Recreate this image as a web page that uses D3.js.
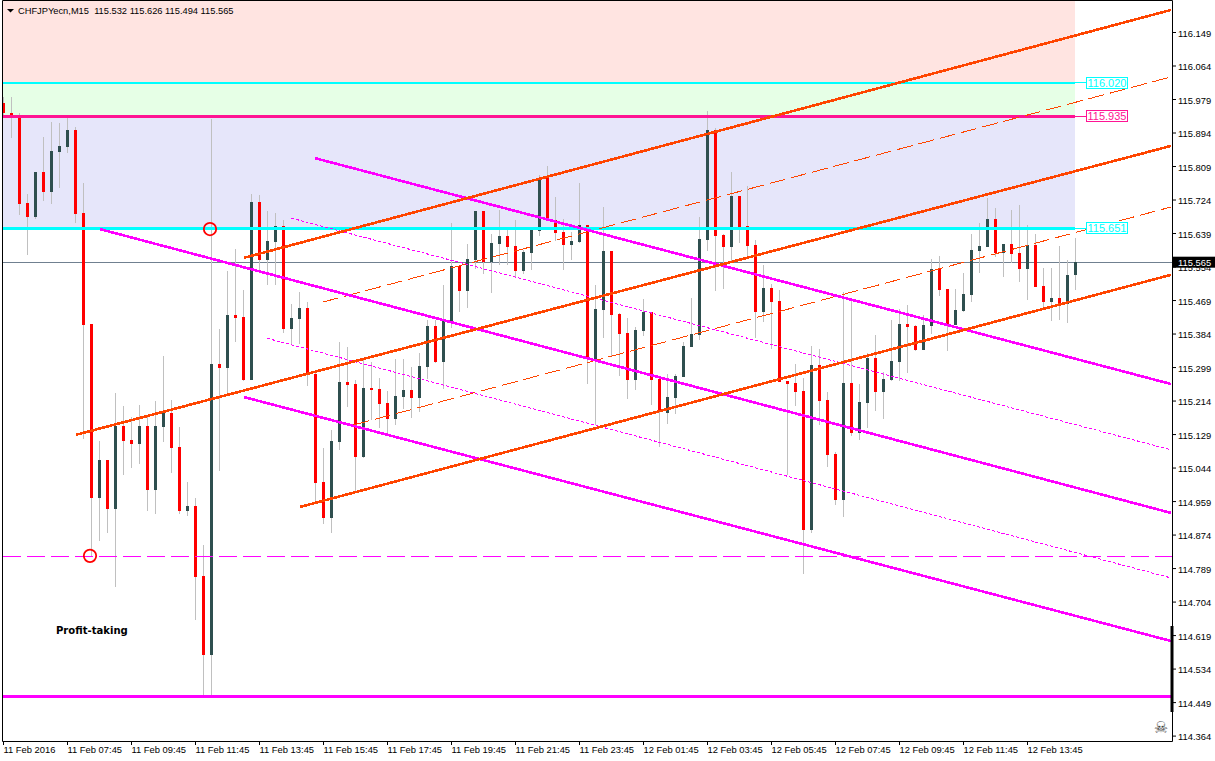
<!DOCTYPE html>
<html>
<head>
<meta charset="utf-8">
<script src="https://cdn.jsdelivr.net/npm/d3@7"></script>
<style>
  html, body { margin: 0; padding: 0; background: #fff; overflow: hidden; }
  svg { display: block; }
  text { font-family: "Liberation Sans", sans-serif; }
</style>
</head>
<body>
<svg id="chart"></svg>
<script>
// M15 bars, 11 Feb 2016 05:45 onwards
const opens = [115.969,115.943,115.931,115.715,115.680,115.794,115.743,115.845,115.857,115.900,115.690,115.408,114.967,115.063,114.939,115.149,115.114,115.104,115.149,114.987,115.147,115.182,115.096,114.934,114.947,114.769,114.568,115.307,115.297,115.431,115.426,115.266,115.718,115.571,115.616,115.657,115.396,115.421,115.449,115.281,115.007,114.916,115.109,115.261,115.256,115.071,115.246,115.243,115.208,115.167,115.223,115.241,115.220,115.299,115.403,115.312,115.416,115.555,115.492,115.571,115.695,115.566,115.611,115.632,115.606,115.543,115.588,115.644,115.781,115.672,115.642,115.609,115.616,115.659,115.317,115.444,115.593,115.434,115.385,115.266,115.390,115.439,115.269,115.182,115.220,115.274,115.350,115.380,115.621,115.900,115.634,115.604,115.733,115.657,115.609,115.439,115.500,115.467,115.264,115.259,115.238,114.886,115.304,115.215,115.078,114.962,115.259,115.132,115.208,115.322,115.236,115.266,115.312,115.408,115.403,115.342,115.403,115.548,115.497,115.406,115.441,115.482,115.593,115.604,115.675,115.588,115.611,115.588,115.548,115.609,115.505,115.464,115.474,115.459,115.532];
const highs = [115.984,115.984,115.943,115.738,115.794,115.883,115.921,115.918,115.933,115.908,115.766,115.408,115.111,115.063,115.233,115.200,115.172,115.203,115.175,115.213,115.327,115.215,115.147,115.007,114.967,114.848,115.928,115.396,115.543,115.599,115.494,115.738,115.736,115.695,115.690,115.672,115.459,115.489,115.464,115.292,115.094,115.139,115.363,115.350,115.266,115.317,115.312,115.271,115.238,115.319,115.319,115.299,115.335,115.418,115.418,115.507,115.664,115.555,115.611,115.695,115.695,115.637,115.697,115.647,115.672,115.596,115.652,115.786,115.809,115.730,115.675,115.642,115.766,115.659,115.507,115.705,115.593,115.436,115.423,115.401,115.472,115.439,115.271,115.281,115.281,115.363,115.474,115.680,115.949,115.905,115.637,115.794,115.733,115.758,115.621,115.558,115.510,115.494,115.264,115.307,115.271,115.352,115.345,115.236,115.083,115.489,115.469,115.256,115.335,115.380,115.286,115.418,115.446,115.456,115.406,115.431,115.573,115.581,115.497,115.497,115.538,115.637,115.664,115.728,115.703,115.611,115.697,115.710,115.659,115.637,115.550,115.550,115.606,115.571,115.626];
const lows = [115.933,115.880,115.685,115.583,115.675,115.720,115.713,115.753,115.842,115.664,115.116,114.817,114.858,114.878,114.741,115.025,115.043,115.053,114.934,114.926,115.109,115.030,114.926,114.921,114.657,114.459,114.462,115.035,115.233,115.363,115.264,115.266,115.540,115.507,115.507,115.385,115.355,115.358,115.251,114.957,114.901,114.878,115.089,115.198,114.982,115.068,115.165,115.144,115.129,115.152,115.193,115.170,115.185,115.269,115.309,115.243,115.398,115.439,115.449,115.548,115.535,115.487,115.558,115.558,115.525,115.535,115.545,115.632,115.672,115.619,115.545,115.571,115.614,115.256,115.152,115.373,115.327,115.276,115.218,115.241,115.378,115.203,115.096,115.155,115.180,115.274,115.350,115.368,115.593,115.492,115.497,115.563,115.614,115.578,115.373,115.413,115.345,115.261,115.025,115.200,114.774,114.878,115.152,115.045,114.949,114.919,115.124,115.114,115.144,115.188,115.167,115.264,115.264,115.284,115.340,115.342,115.383,115.479,115.340,115.406,115.439,115.464,115.538,115.604,115.578,115.527,115.563,115.515,115.469,115.502,115.444,115.416,115.418,115.411,115.494];
const closes = [115.943,115.931,115.713,115.680,115.794,115.743,115.847,115.860,115.900,115.687,115.406,114.967,115.063,114.939,115.149,115.111,115.104,115.149,114.987,115.149,115.182,115.094,114.934,114.947,114.766,114.568,115.307,115.297,115.431,115.423,115.266,115.718,115.571,115.619,115.657,115.396,115.423,115.449,115.281,115.005,114.916,115.111,115.261,115.254,115.071,115.246,115.241,115.205,115.167,115.226,115.241,115.220,115.302,115.403,115.312,115.416,115.555,115.492,115.573,115.695,115.566,115.614,115.632,115.604,115.543,115.591,115.647,115.776,115.672,115.639,115.609,115.619,115.659,115.319,115.446,115.593,115.431,115.383,115.266,115.393,115.439,115.266,115.185,115.223,115.276,115.352,115.383,115.624,115.900,115.632,115.604,115.733,115.654,115.606,115.439,115.500,115.464,115.261,115.256,115.236,114.886,115.304,115.213,115.076,114.962,115.259,115.132,115.210,115.322,115.236,115.269,115.314,115.408,115.401,115.342,115.406,115.548,115.494,115.406,115.444,115.484,115.596,115.606,115.675,115.588,115.611,115.586,115.548,115.609,115.502,115.464,115.474,115.459,115.532,115.565];

const timeLabels = ['11 Feb 2016','11 Feb 07:45','11 Feb 09:45','11 Feb 11:45','11 Feb 13:45','11 Feb 15:45','11 Feb 17:45','11 Feb 19:45','11 Feb 21:45','11 Feb 23:45','12 Feb 01:45','12 Feb 03:45','12 Feb 05:45','12 Feb 07:45','12 Feb 09:45','12 Feb 11:45','12 Feb 13:45'];
const priceTicks = d3.range(22).map(k => 116.149 - k * 0.085);

// trend lines as [bar, price, bar, price]
const orangeLines = [[30.1,115.576,146,116.205],[9.1,115.127,146,115.860],[37.1,114.944,146,115.533]];
const orangeDashed = [[40,115.464,146,116.035],[43.8,115.152,146,115.705]];
const magentaLines = [[39,115.829,146,115.256],[12.1,115.649,146,114.929],[30.1,115.223,146,114.604]];
const magentaDotted = [[36,115.677,146,115.089],[33,115.372,146,114.764]];

const levels = [
  { price: 116.020, color: '#00ffff' },
  { price: 115.935, color: '#ff1493' },
  { price: 115.651, color: '#00ffff' }
];
const zones = [
  { top: 116.23, bottom: 116.020, color: '#ffe4e1' },
  { top: 116.020, bottom: 115.935, color: '#e6ffe6' },
  { top: 115.935, bottom: 115.651, color: '#e6e6fa' }
];
const supportDash = 114.8183;
const supportLine = 114.4632;
const lastPrice = 115.565;
const bandEndBar = 134;
const circles = [[11, 114.82], [26, 115.649]];

const width = 1215, height = 761;
const plot = { left: 3, right: 1172, top: 1, bottom: 741 };

const x = d3.scaleLinear().domain([0, 134]).range([3, 1075]);
const y = d3.scaleLinear().domain([116.149, 114.364]).range([32, 735.6]);

const bars = opens.map((o, i) => ({ i, o, h: highs[i], l: lows[i], c: closes[i] }));

const svg = d3.select('#chart').attr('width', width).attr('height', height);

// zones
svg.append('g').selectAll('rect').data(zones).join('rect')
  .attr('x', x(0))
  .attr('y', d => Math.max(y(d.top), plot.top))
  .attr('width', x(bandEndBar) - x(0))
  .attr('height', d => y(d.bottom) - Math.max(y(d.top), plot.top))
  .attr('fill', d => d.color);

// bid line sits under the candles
svg.append('line')
  .attr('x1', plot.left).attr('x2', plot.right)
  .attr('y1', y(lastPrice)).attr('y2', y(lastPrice))
  .attr('stroke', '#708090').attr('stroke-width', 1)
  .attr('shape-rendering', 'crispEdges');

// candles
const candle = svg.append('g').attr('shape-rendering', 'crispEdges');
candle.selectAll('line').data(bars).join('line')
  .attr('x1', d => x(d.i) + 0.5).attr('x2', d => x(d.i) + 0.5)
  .attr('y1', d => y(d.h)).attr('y2', d => y(d.l))
  .attr('stroke', '#c0c0c0').attr('stroke-width', 1);
candle.selectAll('rect').data(bars).join('rect')
  .attr('x', d => x(d.i) - 1)
  .attr('y', d => y(Math.max(d.o, d.c)))
  .attr('width', 3)
  .attr('height', d => Math.max(2, Math.abs(y(d.o) - y(d.c))))
  .attr('fill', d => d.c >= d.o ? '#2f4f4f' : '#ff0000');

const lines = svg.append('g').attr('shape-rendering', 'crispEdges');
const drawLines = (data, color, w, dash) => {
  lines.append('g').selectAll('line').data(data).join('line')
    .attr('x1', d => x(d[0])).attr('y1', d => y(d[1]))
    .attr('x2', d => x(d[2])).attr('y2', d => y(d[3]))
    .attr('stroke', color).attr('stroke-width', w)
    .attr('stroke-dasharray', dash);
};

// level lines
lines.append('g').selectAll('line').data(levels).join('line')
  .attr('x1', x(0)).attr('x2', x(bandEndBar))
  .attr('y1', d => y(d.price)).attr('y2', d => y(d.price))
  .attr('stroke', d => d.color).attr('stroke-width', 2.5);

lines.append('line')
  .attr('x1', plot.left).attr('x2', plot.right)
  .attr('y1', y(supportLine)).attr('y2', y(supportLine))
  .attr('stroke', '#ff00ff').attr('stroke-width', 3);

svg.append('line')
  .attr('x1', plot.left).attr('x2', plot.right)
  .attr('y1', y(supportDash)).attr('y2', y(supportDash))
  .attr('stroke', '#ff00ff').attr('stroke-width', 1).attr('stroke-dasharray', '18,6');

drawLines(magentaDotted, '#ff00ff', 1, '3,2');
drawLines(orangeDashed, '#ff4500', 1, '16,6');
drawLines(magentaLines, '#ff00ff', 2.6, null);
drawLines(orangeLines, '#ff4500', 2.6, null);

// circles
svg.append('g').selectAll('circle').data(circles).join('circle')
  .attr('cx', d => x(d[0]) - 1).attr('cy', d => y(d[1]))
  .attr('r', 6.2).attr('fill', 'none')
  .attr('stroke', '#ff0000').attr('stroke-width', 1.8);

// level labels
const tag = svg.append('g').selectAll('g').data(levels).join('g');
tag.append('line')
  .attr('x1', x(bandEndBar)).attr('x2', 1086)
  .attr('y1', d => y(d.price)).attr('y2', d => y(d.price))
  .attr('stroke', d => d.color).attr('shape-rendering', 'crispEdges');
tag.append('rect')
  .attr('x', 1086.5).attr('y', d => Math.round(y(d.price)) - 5.5)
  .attr('width', 41).attr('height', 11)
  .attr('fill', '#fff').attr('stroke', d => d.color).attr('shape-rendering', 'crispEdges');
tag.append('text')
  .attr('x', 1107).attr('y', d => y(d.price) + 4)
  .attr('text-anchor', 'middle').style('font-size', '11px')
  .attr('fill', d => d.color)
  .text(d => d.price.toFixed(3));

// frame
svg.append('path')
  .attr('d', `M${plot.left - 0.5},0.5V${plot.bottom + 0.5}H${plot.right + 0.5}V0.5Z`)
  .attr('fill', 'none').attr('stroke', '#000').attr('stroke-width', 1);

// price axis
const yAxis = d3.axisRight(y).tickValues(priceTicks).tickFormat(d3.format('.3f')).tickSize(4).tickPadding(2);
svg.append('g')
  .attr('transform', `translate(${plot.right},0)`)
  .call(yAxis)
  .call(g => g.select('.domain').remove())
  .call(g => g.selectAll('text').attr('dy', '0.45em').style('font-size', '9.4px').style('font-family', '"Liberation Sans", sans-serif').attr('fill', '#000'));

// time axis
const timeTicks = timeLabels.map((d, k) => k * 8);
const xAxis = d3.axisBottom(x).tickValues(timeTicks).tickFormat((d, k) => timeLabels[k]).tickSize(4).tickPadding(2);
svg.append('g')
  .attr('transform', `translate(0,${plot.bottom})`)
  .call(xAxis)
  .call(g => g.select('.domain').remove())
  .call(g => g.selectAll('text').attr('text-anchor', 'start').attr('dy', '0.6em').style('font-size', '9.4px').style('font-family', '"Liberation Sans", sans-serif').attr('fill', '#000'));

// last price tag
svg.append('rect').attr('x', 1173).attr('y', y(lastPrice) - 5.5).attr('width', 42).attr('height', 11).attr('fill', '#000');
svg.append('text').attr('x', 1178).attr('y', y(lastPrice) + 4).attr('fill', '#fff').style('font-size', '9.4px').text(lastPrice.toFixed(3));

// volume stub on right edge, skull
svg.append('line')
  .attr('x1', plot.right).attr('x2', plot.right)
  .attr('y1', 626).attr('y2', 712)
  .attr('stroke', '#000').attr('stroke-width', 3);
svg.append('text').attr('x', 1161).attr('y', 733).attr('text-anchor', 'middle')
  .attr('fill', '#444').style('font-family', '"DejaVu Sans"').style('font-size', '16px').text('\u2620');

// header
svg.append('path').attr('d', 'M7,9h7l-3.5,3.5z').attr('fill', '#000');
svg.append('text').attr('x', 18).attr('y', 14).style('font-size', '9.3px').attr('fill', '#000')
  .attr('xml:space', 'preserve')
  .text('CHFJPYecn,M15  115.532 115.626 115.494 115.565');

svg.append('text').attr('x', 56).attr('y', 634)
  .style('font-family', '"DejaVu Sans Condensed", "DejaVu Sans"').style('font-weight', 'bold').style('font-size', '11.2px')
  .attr('fill', '#000').text('Profit-taking');
</script>
</body>
</html>
